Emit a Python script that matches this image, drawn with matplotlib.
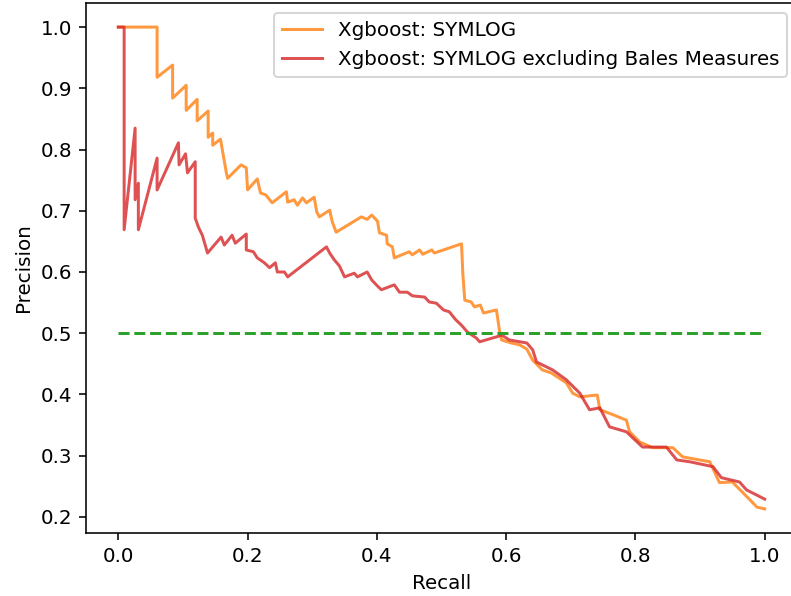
import matplotlib
matplotlib.use("Agg")
import matplotlib.pyplot as plt

# === PR CURVE DATA ===
recall_full = [0.000, 0.060, 0.060, 0.084, 0.084, 0.105, 0.105, 0.122, 0.122, 0.139,
               0.139, 0.146, 0.146, 0.158, 0.167, 0.169, 0.190, 0.198, 0.200, 0.215,
               0.220, 0.228, 0.238, 0.260, 0.262, 0.272, 0.277, 0.285, 0.291, 0.303,
               0.307, 0.311, 0.327, 0.331, 0.337, 0.376, 0.385, 0.392, 0.401, 0.404,
               0.415, 0.416, 0.424, 0.427, 0.450, 0.455, 0.466, 0.471, 0.485, 0.489,
               0.531, 0.533, 0.536, 0.546, 0.551, 0.560, 0.565, 0.585, 0.590, 0.593,
               0.608, 0.621, 0.632, 0.641, 0.656, 0.670, 0.693, 0.703, 0.714, 0.741,
               0.745, 0.765, 0.786, 0.791, 0.807, 0.827, 0.858, 0.873, 0.915, 0.923,
               0.930, 0.950, 0.977, 0.988, 1.000]
precision_full = [1.000, 1.000, 0.918, 0.938, 0.884, 0.905, 0.864, 0.882, 0.847, 0.863,
                  0.820, 0.827, 0.807, 0.817, 0.763, 0.753, 0.775, 0.770, 0.734, 0.752,
                  0.729, 0.726, 0.713, 0.731, 0.714, 0.718, 0.709, 0.721, 0.713, 0.722,
                  0.698, 0.690, 0.701, 0.682, 0.665, 0.690, 0.686, 0.693, 0.683, 0.664,
                  0.660, 0.646, 0.641, 0.623, 0.633, 0.628, 0.636, 0.629, 0.636, 0.631,
                  0.646, 0.597, 0.554, 0.551, 0.543, 0.546, 0.533, 0.538, 0.502, 0.489,
                  0.484, 0.481, 0.474, 0.456, 0.440, 0.435, 0.419, 0.402, 0.396, 0.399,
                  0.375, 0.367, 0.358, 0.339, 0.322, 0.313, 0.313, 0.298, 0.290, 0.272,
                  0.256, 0.257, 0.228, 0.216, 0.213]

recall_nobales = [0.000, 0.009, 0.009, 0.026, 0.026, 0.031, 0.031, 0.060, 0.060, 0.093,
                  0.094, 0.104, 0.107, 0.119, 0.119, 0.124, 0.130, 0.138, 0.159, 0.164,
                  0.176, 0.181, 0.198, 0.198, 0.209, 0.215, 0.226, 0.234, 0.243, 0.246,
                  0.257, 0.262, 0.322, 0.327, 0.334, 0.342, 0.350, 0.365, 0.370, 0.385,
                  0.392, 0.401, 0.407, 0.427, 0.435, 0.447, 0.455, 0.474, 0.481, 0.492,
                  0.503, 0.512, 0.522, 0.531, 0.540, 0.554, 0.559, 0.585, 0.593, 0.605,
                  0.632, 0.641, 0.647, 0.672, 0.693, 0.714, 0.729, 0.745, 0.760, 0.786,
                  0.811, 0.848, 0.864, 0.884, 0.920, 0.933, 0.961, 0.972, 1.000]
precision_nobales = [1.000, 1.000, 0.669, 0.835, 0.718, 0.745, 0.669, 0.786, 0.734, 0.811,
                     0.775, 0.793, 0.762, 0.780, 0.688, 0.673, 0.660, 0.631, 0.657, 0.644,
                     0.660, 0.647, 0.662, 0.636, 0.633, 0.623, 0.615, 0.607, 0.615, 0.600,
                     0.600, 0.592, 0.641, 0.631, 0.620, 0.610, 0.592, 0.598, 0.592, 0.600,
                     0.587, 0.577, 0.571, 0.579, 0.567, 0.567, 0.561, 0.559, 0.551, 0.549,
                     0.538, 0.535, 0.522, 0.513, 0.502, 0.492, 0.486, 0.494, 0.497, 0.489,
                     0.484, 0.473, 0.453, 0.440, 0.424, 0.402, 0.375, 0.378, 0.347, 0.339,
                     0.314, 0.314, 0.293, 0.290, 0.282, 0.264, 0.257, 0.244, 0.229]

baseline_x = [0, 1]
baseline_y = [0.5, 0.5]

# === FIGURE (reference was drawn at ~143 dpi and cropped on the right) ===
DPI = 143
fig = plt.figure(figsize=(791 / DPI, 596 / DPI), dpi=DPI)
ax = fig.add_axes([86 / 791, 63 / 596, 711 / 791, 530 / 596])

ax.plot(recall_full, precision_full, color="tab:orange", alpha=0.8,
        label="Xgboost: SYMLOG")
ax.plot(recall_nobales, precision_nobales, color="tab:red", alpha=0.8,
        label="Xgboost: SYMLOG excluding Bales Measures")
ax.plot(baseline_x, baseline_y, "--", color="tab:green")

ax.set_xlabel("Recall")
ax.set_ylabel("Precision")
ax.legend(loc="upper right")
# right edge is cut off in the reference
ax.spines["right"].set_visible(False)

fig.savefig("out.png", dpi=DPI)
